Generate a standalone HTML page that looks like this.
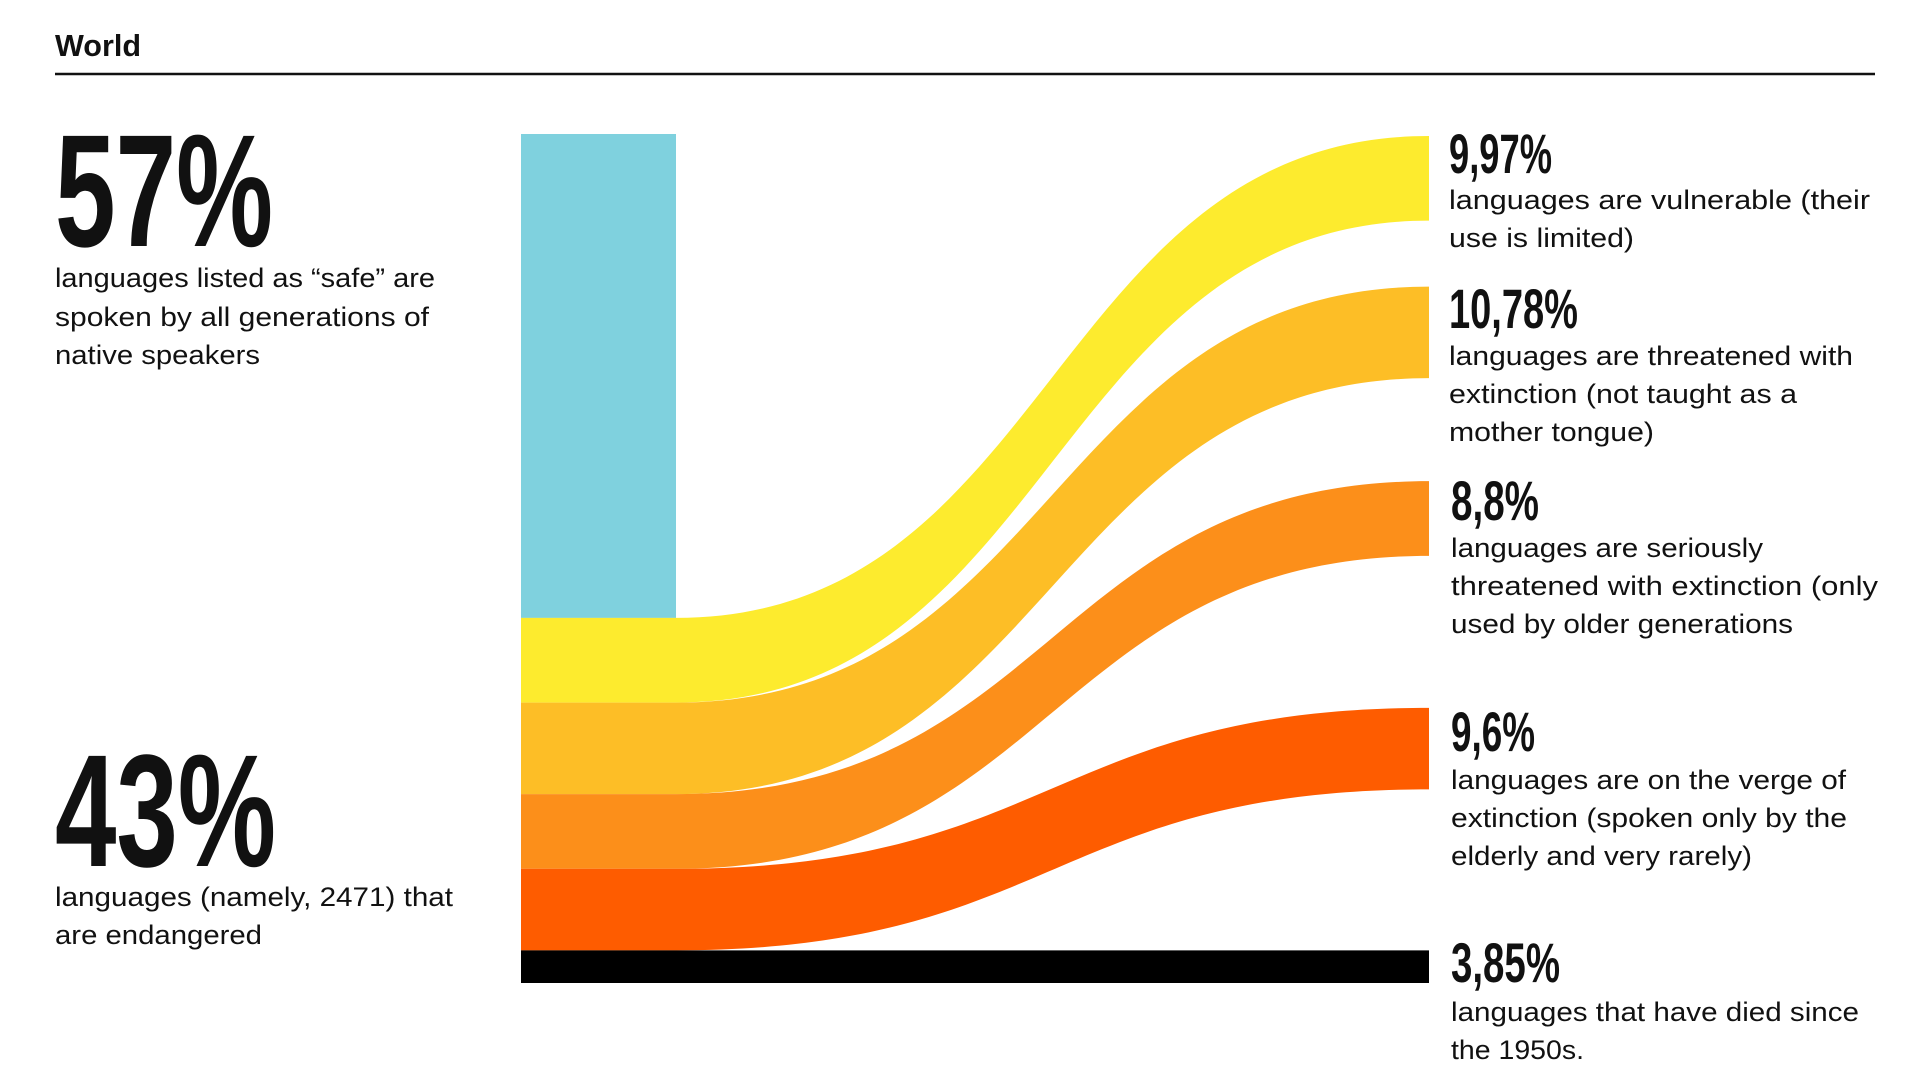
<!DOCTYPE html>
<html><head><meta charset="utf-8"><style>
html,body{margin:0;padding:0;background:#fff;}
svg{display:block;}
text{font-family:"Liberation Sans Narrow","Liberation Sans",sans-serif;fill:#111;}
.body{font-size:27px;}
.big{font-size:56px;font-weight:bold;}
.huge{font-size:160px;font-weight:bold;}
</style></head><body>
<svg id="chart" width="1920" height="1083" viewBox="0 0 1920 1083" xmlns="http://www.w3.org/2000/svg">
<text x="55" y="56" font-size="31" font-weight="bold" textLength="86" lengthAdjust="spacingAndGlyphs">World</text>
<line x1="55" y1="74" x2="1875" y2="74" stroke="#111" stroke-width="2.5"/>
<g id="bands"></g>
<g>
<text class="huge" x="55" y="246" textLength="218" lengthAdjust="spacingAndGlyphs">57%</text>
<text class="body" x="55" y="287" textLength="380" lengthAdjust="spacingAndGlyphs">languages listed as “safe” are</text>
<text class="body" x="55" y="326" textLength="374" lengthAdjust="spacingAndGlyphs">spoken by all generations of</text>
<text class="body" x="55" y="364" textLength="205" lengthAdjust="spacingAndGlyphs">native speakers</text>
<text class="huge" x="55" y="866" textLength="221" lengthAdjust="spacingAndGlyphs">43%</text>
<text class="body" x="55" y="906" textLength="398" lengthAdjust="spacingAndGlyphs">languages (namely, 2471) that</text>
<text class="body" x="55" y="944" textLength="207" lengthAdjust="spacingAndGlyphs">are endangered</text>
</g>
<g>
<text class="big" x="1449" y="173" textLength="103" lengthAdjust="spacingAndGlyphs">9,97%</text>
<text class="body" x="1449" y="209" textLength="421" lengthAdjust="spacingAndGlyphs">languages  are vulnerable (their</text>
<text class="body" x="1449" y="247" textLength="185" lengthAdjust="spacingAndGlyphs">use is limited)</text>
<text class="big" x="1449" y="328" textLength="129" lengthAdjust="spacingAndGlyphs">10,78%</text>
<text class="body" x="1449" y="365" textLength="404" lengthAdjust="spacingAndGlyphs">languages are threatened with</text>
<text class="body" x="1449" y="403" textLength="348" lengthAdjust="spacingAndGlyphs">extinction (not taught as a</text>
<text class="body" x="1449" y="441" textLength="205" lengthAdjust="spacingAndGlyphs">mother tongue)</text>
<text class="big" x="1451" y="520" textLength="88" lengthAdjust="spacingAndGlyphs">8,8%</text>
<text class="body" x="1451" y="557" textLength="312" lengthAdjust="spacingAndGlyphs">languages are seriously</text>
<text class="body" x="1451" y="595" textLength="427" lengthAdjust="spacingAndGlyphs">threatened with extinction (only</text>
<text class="body" x="1451" y="633" textLength="342" lengthAdjust="spacingAndGlyphs">used by older generations</text>
<text class="big" x="1451" y="751" textLength="84" lengthAdjust="spacingAndGlyphs">9,6%</text>
<text class="body" x="1451" y="789" textLength="395" lengthAdjust="spacingAndGlyphs">languages are on the verge of</text>
<text class="body" x="1451" y="827" textLength="396" lengthAdjust="spacingAndGlyphs">extinction (spoken only by the</text>
<text class="body" x="1451" y="865" textLength="301" lengthAdjust="spacingAndGlyphs">elderly and very rarely)</text>
<text class="big" x="1451" y="982" textLength="109" lengthAdjust="spacingAndGlyphs">3,85%</text>
<text class="body" x="1451" y="1021" textLength="408" lengthAdjust="spacingAndGlyphs">languages that have died since</text>
<text class="body" x="1451" y="1059" textLength="133" lengthAdjust="spacingAndGlyphs">the 1950s.</text>
</g>
</svg>
<script>
const safeValue = 57;
const categories = ["vulnerable","threatened","seriously-threatened","verge-of-extinction","died"];
const values = [9.97, 10.78, 8.8, 9.6, 3.85];
const colors = ["#fdeb2e","#fdbe26","#fc8f1a","#fe5c00","#000000"];
// layout constants
const topY = 134, pxPerPct = 8.49;
const xL0 = 521, xL1 = 676, xR = 1429;
const rightGaps = [2, 66, 103, 152, 158]; // vertical gaps before each right band
function yScale(p){ return p * pxPerPct; }
const NS = "http://www.w3.org/2000/svg";
const g = document.getElementById('bands');
const cyan = document.createElementNS(NS,'rect');


cyan.setAttribute('x', xL0); cyan.setAttribute('y', topY);
cyan.setAttribute('width', xL1 - xL0); cyan.setAttribute('height', yScale(safeValue));
cyan.setAttribute('fill', '#7fd1de');
g.appendChild(cyan);
let yl = topY + yScale(safeValue);
let yr = topY;
const xm = (xL1 + xR) / 2;
values.forEach((v, i) => {
  yr += rightGaps[i];
  const h = yScale(v);
  const isLast = i === values.length - 1;
  const ry = isLast ? yl : yr;
  const d = `M${xL0},${yl} L${xL1},${yl} C${xm},${yl} ${xm},${ry} ${xR},${ry} L${xR},${ry+h} C${xm},${ry+h} ${xm},${yl+h} ${xL1},${yl+h} L${xL0},${yl+h} Z`;
  const p = document.createElementNS(NS,'path');
  
  
  p.setAttribute('d', d);
  p.setAttribute('fill', colors[i]);
  g.appendChild(p);
  yl += h;
  yr += h;
});
</script>
</body></html>
